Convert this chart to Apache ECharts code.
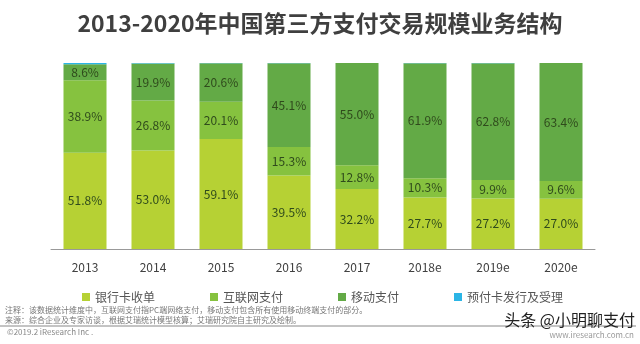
<!DOCTYPE html>
<html>
<head>
<meta charset="utf-8">
<script src="https://cdn.jsdelivr.net/npm/echarts@6/dist/echarts.min.js"></script>
<style>html,body{margin:0;padding:0;background:#fff;}#c{width:640px;height:344px;}</style>
</head>
<body>
<div id="c"></div>
<script>
var categories = ['2013', '2014', '2015', '2016', '2017', '2018e', '2019e', '2020e'];
var bankCard = [51.8, 53.0, 59.1, 39.5, 32.2, 27.7, 27.2, 27.0];
var internetPay = [38.9, 26.8, 20.1, 15.3, 12.8, 10.3, 9.9, 9.6];
var mobilePay = [8.6, 19.9, 20.6, 45.1, 55.0, 61.9, 62.8, 63.4];
var prepaidCard = [0.7, 0.3, 0.2, 0.1, 0.0, 0.1, 0.1, 0.0];
var seriesNames = ['银行卡收单', '互联网支付', '移动支付', '预付卡发行及受理'];
var titleText = '2013-2020年中国第三方支付交易规模业务结构';
var note1 = '注释：该数据统计维度中，互联网支付指PC端网络支付，移动支付包含所有使用移动终端支付的部分。';
var note2 = '来源：综合企业及专家访谈，根据艾瑞统计模型核算；艾瑞研究院自主研究及绘制。';
var copyright = '©2019.2 iResearch Inc .';

var font = '"Noto Sans CJK SC", "Open Sans", sans-serif';
var colors = ['#b6d134', '#86c23f', '#63aa46', '#2bb5e6'];

function mk(name, data, color, showLabel) {
  return {
    name: name, type: 'bar', stack: 'total', data: data, barWidth: 43,
    itemStyle: { color: color },
    label: {
      show: showLabel, position: 'inside', color: '#2f4a1c', fontSize: 12, fontFamily: font,
      formatter: function (p) { return p.value.toFixed(1) + '%'; }
    }
  };
}

var chart = echarts.init(document.getElementById('c'), null, { renderer: 'canvas' });
chart.setOption({
  backgroundColor: '#fff',
  animation: false,
  color: colors,
  title: {
    text: titleText, left: 'center', top: 7,
    textStyle: { fontSize: 23, fontWeight: 'bold', color: '#3f3f3f', fontFamily: font }
  },
  legend: {
    data: seriesNames, left: 77, top: 286, icon: 'rect', itemWidth: 8, itemHeight: 8,
    itemGap: 55, textStyle: { fontSize: 12, color: '#555', fontFamily: font }
  },
  grid: { left: 51, right: 45, top: 63, bottom: 95 },
  xAxis: {
    type: 'category', data: categories,
    axisLine: { lineStyle: { color: '#999' } }, axisTick: { show: false },
    axisLabel: { color: '#404040', fontSize: 12, margin: 12, fontFamily: font }
  },
  yAxis: { type: 'value', min: 0, max: 100, show: false, splitLine: { show: false } },
  series: [
    mk(seriesNames[0], bankCard, colors[0], true),
    mk(seriesNames[1], internetPay, colors[1], true),
    mk(seriesNames[2], mobilePay, colors[2], true),
    mk(seriesNames[3], prepaidCard, colors[3], false)
  ],
  graphic: [
    { type: 'text', left: 5, top: 306, style: { text: note1, fontSize: 8, fill: '#777', fontFamily: font } },
    { type: 'text', left: 5, top: 316, style: { text: note2, fontSize: 8, fill: '#777', fontFamily: font } },
    { type: 'line', shape: { x1: 0, y1: 326, x2: 636, y2: 326 }, style: { stroke: '#888', lineWidth: 1 } },
    { type: 'text', left: 7, top: 328, style: { text: copyright, fontSize: 8, fill: '#888', fontFamily: font } },
    { type: 'text', right: 6, top: 331, style: { text: 'www.iresearch.com.cn', fontSize: 8, fill: '#999', fontFamily: font } },
    { type: 'text', right: 5, top: 312, style: { text: '头条 @小明聊支付', fontSize: 16, fill: '#222', fontFamily: font } }
  ]
});
</script>
</body>
</html>
